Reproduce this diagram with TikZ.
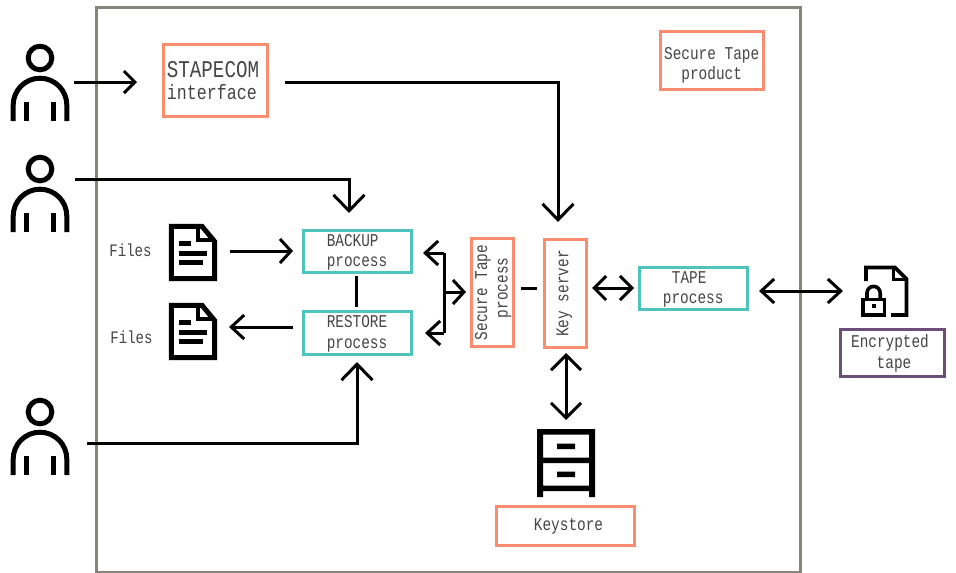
\documentclass[tikz,border=0pt]{standalone}
\usepackage{fontspec}
\setmainfont[FakeStretch=0.8]{Liberation Mono}
\usetikzlibrary{arrows.meta}
\definecolor{frameg}{HTML}{85857A}
\definecolor{salmon}{HTML}{FA8C70}
\definecolor{teal2}{HTML}{4FC4BD}
\definecolor{purp}{HTML}{6B4F7A}
\definecolor{inkk}{HTML}{454545}
\newcommand{\fs}[1]{\fontsize{#1}{20.5}\selectfont}
% dx, dy, content: shifted block of lines inside a box
\newcommand{\lines}[4][c]{\hspace*{#2pt}\raisebox{#3pt}[0pt][0pt]{\fs{18}\begin{tabular}{@{}#1@{}}#4\end{tabular}}}
\tikzset{
  x=1pt,y=-1pt,
  tipa/.tip={Straight Barb[length=11pt,width=22pt,line width=3pt]},
  tipb/.tip={Straight Barb[length=16pt,width=31pt,line width=3pt]},
  tipc/.tip={Straight Barb[length=11pt,width=24pt,line width=3pt]},
  tipd/.tip={Straight Barb[length=13pt,width=24pt,line width=3pt]},
  tipe/.tip={Straight Barb[length=12pt,width=24pt,line width=3pt]},
  tipf/.tip={Straight Barb[length=15pt,width=30pt,line width=3pt]},
  boxs/.style={draw=#1,line width=3pt,inner sep=0pt,text=inkk,font=\fs{18}},
  conn/.style={line width=3pt,black},
  icon/.style={line width=5pt,black},
  iconnode/.style={inner sep=0pt,draw=none},
  person/.pic={
    \draw[icon] (0,-25) circle (11.8);
    \draw[icon,line cap=butt] (-26.8,38) -- (-26.8,22) arc[start angle=180,end angle=360,radius=26.8] -- (26.8,38);
    \draw[icon,line cap=butt] (-13.2,19) -- (-13.2,38) (13.2,19) -- (13.2,38);
  },
  docu/.pic={
    \draw[icon,line join=miter,fill=white] (-21.6,-26.2) -- (9,-26.2) -- (21.6,-11) -- (21.6,26.2) -- (-21.6,26.2) -- cycle;
    \draw[line width=3.6pt,line join=miter] (5,-26.2) -- (5,-12.5) -- (21.6,-12.5);
    \draw[icon] (-14,-9.5) -- (-2,-9.5) (-14,0.5) -- (14,0.5) (-14,9.5) -- (10,9.5);
  }
}
\begin{document}
\begin{tikzpicture}
\useasboundingbox (0,0) rectangle (956,573);
\fill[white] (0,0) rectangle (956,573);
\draw[frameg,line width=3pt] (96.3,7.5) rectangle (800,572);

% icons
\node[iconnode,minimum width=60pt,minimum height=78pt] (user1) at (40,83) {};
\node[iconnode,minimum width=60pt,minimum height=78pt] (user2) at (40,194) {};
\node[iconnode,minimum width=60pt,minimum height=78pt] (user3) at (40,437) {};
\pic at (user1) {person};
\pic at (user2) {person};
\pic at (user3) {person};
\node[iconnode,minimum width=48pt,minimum height=57pt] (doc1) at (193,252.5) {};
\node[iconnode,minimum width=48pt,minimum height=57pt] (doc2) at (193,331.5) {};
\pic at (doc1) {docu};
\pic at (doc2) {docu};

% cabinet
\node[iconnode,minimum width=58pt,minimum height=68pt] (cabinet) at (566,463) {};
\fill[black] (537,429) rectangle (595,434.5)
  (537,429) rectangle (543,497) (589,429) rectangle (595,497)
  (537,457.5) rectangle (595,463) (537,485.5) rectangle (595,491)
  (557,443.5) rectangle (575,449) (557,471.5) rectangle (575,477);

% locked file
\node[iconnode,minimum width=47pt,minimum height=51pt] (lockfile) at (884,291) {};
\draw[line width=3.6pt,line join=miter] (866,281) -- (866,267.5) -- (895,267.5) -- (906.5,279) -- (906.5,315) -- (891,315);
\draw[line width=3pt,line join=miter] (893,267.5) -- (893,279.5) -- (906.5,279.5);
\draw[line width=3.6pt,line join=miter] (862.8,299.5) rectangle (884.5,315);
\draw[line width=3.6pt] (867,299) -- (867,293) arc[start angle=180,end angle=360,radius=6.6] -- (880.2,299);
\fill[black] (871.5,303.8) rectangle (876,308.3);

% boxes
\node[boxs=salmon,minimum width=104pt,minimum height=72pt] (stapecom) at (215,80.5)
  {\hspace*{-4pt}\raisebox{-7pt}[0pt][0pt]{\begin{tabular}{@{}l@{}}\fs{24}STAPECOM\\[1pt]\fs{20.8}interface\end{tabular}}};
\node[boxs=salmon,minimum width=103pt,minimum height=58pt] (product) at (711.7,60.5)
  {\lines{0}{-9}{Secure Tape\\product}};
\node[boxs=teal2,minimum width=108pt,minimum height=42pt] (backup) at (357,251.5)
  {\lines[l]{0}{-5}{BACKUP\\process}};
\node[boxs=teal2,minimum width=108pt,minimum height=43pt] (restore) at (357,333)
  {\lines[l]{0}{-5}{RESTORE\\process}};
\node[boxs=salmon,rotate=90,minimum width=108pt,minimum height=42pt] (secure) at (492.5,292.5)
  {\lines[l]{0}{-5}{Secure Tape\\\hspace*{22pt}process}};
\node[boxs=salmon,rotate=90,minimum width=108pt,minimum height=42pt] (keyserver) at (565.5,293.5)
  {\lines{0}{-3}{Key server}};
\node[boxs=teal2,minimum width=108pt,minimum height=42pt] (tape) at (693.2,288.5)
  {\lines{0}{-5}{TAPE\hspace*{8pt}\\process}};
\node[boxs=purp,minimum width=104pt,minimum height=47pt] (enc) at (892.5,353)
  {\lines{-5}{-5}{Encrypted\\\hspace*{8pt}tape}};
\node[boxs=salmon,minimum width=138pt,minimum height=39pt] (keystore) at (565.5,526)
  {\hspace*{6pt}Keystore};
\node[inkk,font=\fs{17.5},anchor=base,inner sep=0pt] (files1) at (130.5,256) {Files};
\node[inkk,font=\fs{17.5},anchor=base,inner sep=0pt] (files2) at (131.5,343) {Files};

% connector ends
\coordinate (u1o) at (74,82);
\coordinate (u1e) at (137,82);
\coordinate (u2o) at (75,179);
\coordinate (u2e) at (349,213);
\coordinate (u3o) at (87,443);
\coordinate (u3e) at (357,362);
\coordinate (so) at (285,82);
\coordinate (se) at (558,222);
\coordinate (d1o) at (230,251);
\coordinate (d1e) at (293,251);
\coordinate (d2o) at (293,327);
\coordinate (d2i) at (229,327);
\coordinate (bb) at (356,276);
\coordinate (rt) at (356,307);
\coordinate (bus) at (444,292);
\coordinate (busr) at (466,292);
\coordinate (bustop) at (444,253);
\coordinate (busbot) at (444,333);
\coordinate (busl1) at (423,253);
\coordinate (busl2) at (425,333);
\coordinate (sk1) at (521,288);
\coordinate (sk2) at (537,288);
\coordinate (kt1) at (592,288);
\coordinate (kt2) at (634,288);
\coordinate (ks1) at (566,353);
\coordinate (ks2) at (566,420);
\coordinate (te1) at (759,291);
\coordinate (te2) at (843,291);

% connectors
\draw[conn,-tipa] (u1o) -- (u1e);
\draw[conn,-tipb] (u2o) -| (u2e);
\draw[conn,-tipb] (u3o) -| (u3e);
\draw[conn,-tipb] (so) -| (se);
\draw[conn,-tipc] (d1o) -- (d1e);
\draw[conn,-tipd] (d2o) -- (d2i);
\draw[conn] (bb) -- (rt);
\draw[conn] (bustop) -- (busbot);
\draw[conn,-tipd] (bustop) -- (busl1);
\draw[conn,-tipd] (busbot) -- (busl2);
\draw[conn,-tipc] (bus) -- (busr);
\draw[conn] (sk1) -- (sk2);
\draw[conn,tipe-tipe] (kt1) -- (kt2);
\draw[conn,tipf-tipf] (ks1) -- (ks2);
\draw[conn,tipd-tipd] (te1) -- (te2);
\end{tikzpicture}
\end{document}
